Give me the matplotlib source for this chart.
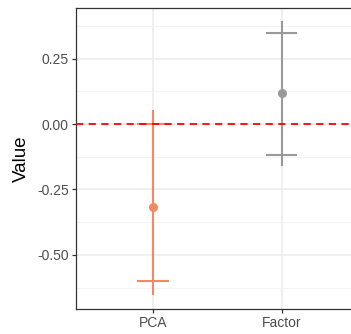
import matplotlib
matplotlib.use("Agg")
import matplotlib.pyplot as plt
from matplotlib.ticker import MultipleLocator

plt.rcParams['font.family'] = ['Liberation Sans', 'DejaVu Sans']

methods = ["PCA", "Factor"]
estimates = [-0.318, 0.12]
line_low = [-0.654, -0.162]
line_high = [0.053, 0.394]
cap_low = [-0.60, -0.119]
cap_high = [0.0, 0.35]
colors = ["#F4895F", "#999999"]

fig = plt.figure(figsize=(3.51, 3.34), dpi=100)
# panel runs off the right edge, like the reference crop
ax = fig.add_axes([75.8 / 351, 25 / 334, 283 / 351, 301.5 / 334])

xs = list(range(1, len(methods) + 1))
for x, est, lo, hi, clo, chi, c in zip(xs, estimates, line_low, line_high, cap_low, cap_high, colors):
    ax.vlines(x, lo, hi, color=c, lw=1.5, zorder=3)
    ax.hlines([clo, chi], x - 0.122, x + 0.122, color=c, lw=1.5, zorder=3)
    ax.plot(x, est, "o", color=c, ms=5.5, zorder=4)

ax.axhline(0, color="#FF0000", lw=1.3, ls=(0, (4, 3)), zorder=5)

ax.set_xlim(0.4, 2.6)
ax.set_ylim(-0.707, 0.446)
ax.set_xticks(xs)
ax.set_xticklabels(methods)
ax.set_yticks([0.25, 0.0, -0.25, -0.5])
ax.set_yticklabels(["0.25", "0.00", "-0.25", "-0.50"])
ax.yaxis.set_minor_locator(MultipleLocator(0.125))
ax.set_ylabel("Value", fontsize=13.5, labelpad=5)

ax.grid(True, which="major", color="#EBEBEB", lw=1.1, zorder=0)
ax.grid(True, which="minor", axis="y", color="#F3F3F3", lw=0.6, zorder=0)
ax.set_axisbelow(True)
ax.tick_params(which="major", length=3, width=0.9, color="#333333", labelsize=10, labelcolor="#4D4D4D", pad=2)
ax.tick_params(which="minor", length=0)
for s in ax.spines.values():
    s.set_color("#333333")
    s.set_linewidth(0.9)

fig.savefig("out.png", dpi=100)
